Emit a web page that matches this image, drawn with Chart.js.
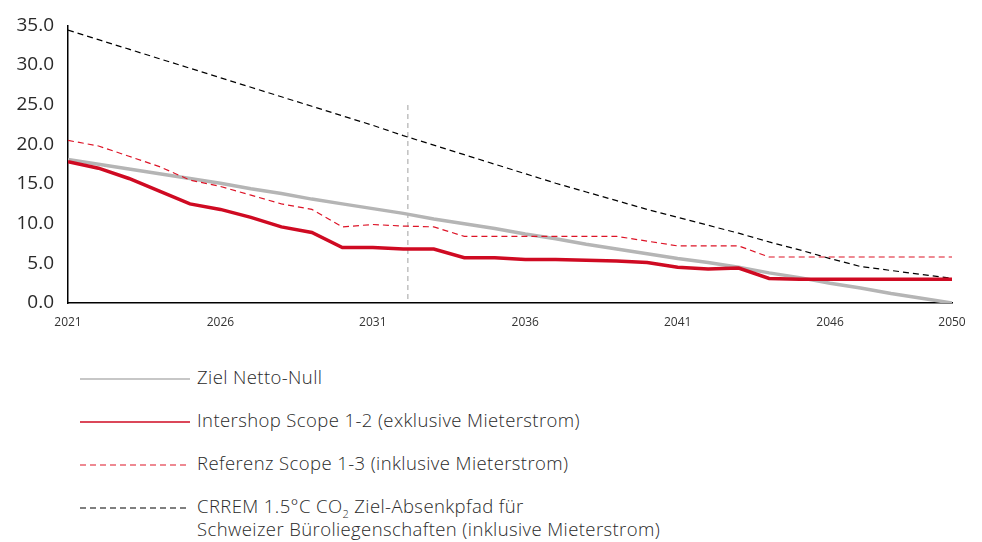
<!DOCTYPE html>
<html lang="de">
<head>
<meta charset="UTF-8">
<title>CO2 Absenkpfad</title>
<script src="https://cdn.jsdelivr.net/npm/chart.js"></script>
<style>
    body { margin: 0; background: #fff; font-family: "Open Sans", sans-serif; color: #333; }
    .wrap { position: relative; width: 982px; height: 542px; }
    .chart-box { position: absolute; left: 0; top: 0; width: 982px; height: 340px; }
    .legend { position: absolute; left: 80px; top: 365px; }
    .row { position: relative; height: 43px; }
    .row svg { position: absolute; left: 0; top: 12px; }
    .row span { position: absolute; left: 117px; top: 0; font-size: 18.5px; font-weight: 300; letter-spacing: 0.4px; line-height: 23px; white-space: nowrap; color: #2a2a2a; }
    .row sub { font-size: 11px; vertical-align: -5px; line-height: 0; }
</style>
</head>
<body>
<div class="wrap">
    <div class="chart-box"><canvas id="myChart"></canvas></div>
    <div class="legend" id="legend"></div>
</div>

<script>
    // Jahre 2021 - 2050
    var years = [];
    for (var y = 2021; y <= 2050; y++) years.push(y);

    var xTickYears = [2021, 2026, 2031, 2036, 2041, 2046, 2050];

    // Werte in kg CO2 / m2
    var zielNettoNull = [18.1, 17.5, 16.9, 16.3, 15.7, 15.1, 14.4, 13.8, 13.1, 12.5,
        11.9, 11.3, 10.6, 10.0, 9.4, 8.7, 8.1, 7.4, 6.8, 6.2,
        5.6, 5.1, 4.5, 3.8, 3.2, 2.5, 1.9, 1.2, 0.6, 0.0];

    var intershop = [17.8, 17.0, 15.7, 14.1, 12.5, 11.8, 10.8, 9.6, 8.9, 7.0,
        7.0, 6.8, 6.8, 5.7, 5.7, 5.5, 5.5, 5.4, 5.3, 5.1,
        4.5, 4.3, 4.4, 3.1, 3.0, 3.0, 3.0, 3.0, 3.0, 3.0];

    var referenz = [20.5, 19.8, 18.5, 17.2, 15.5, 14.7, 13.6, 12.5, 11.8, 9.6,
        9.9, 9.7, 9.6, 8.4, 8.4, 8.4, 8.4, 8.4, 8.4, 7.8,
        7.2, 7.2, 7.2, 5.8, 5.8, 5.8, 5.8, 5.8, 5.8, 5.8];

    var crrem = [34.4, 33.2, 32.0, 30.8, 29.6, 28.4, 27.2, 26.0, 24.8, 23.6,
        22.4, 21.1, 19.9, 18.7, 17.5, 16.3, 15.1, 14.0, 12.9, 11.8,
        10.8, 9.8, 8.8, 7.7, 6.7, 5.6, 4.6, 4.1, 3.6, 3.1];

    // senkrechte Markierung
    var markerYear = 2032.15;
    var markerRange = [0.5, 25];

    var legendLabels = [
        'Ziel Netto-Null',
        'Intershop Scope 1-2 (exklusive Mieterstrom)',
        'Referenz Scope 1-3 (inklusive Mieterstrom)',
        'CRREM 1.5°C CO<sub>2</sub> Ziel-Absenkpfad für<br>Schweizer Büroliegenschaften (inklusive Mieterstrom)'
    ];

    function toPoints(values) {
        return values.map(function (v, i) { return { x: years[i], y: v }; });
    }

    var series = [
        { label: 'Ziel Netto-Null', data: zielNettoNull, color: '#b5b5b5', width: 3.5, dash: [], legendWidth: 1.5, order: 4 },
        { label: 'Intershop Scope 1-2', data: intershop, color: '#cf0a22', width: 3.5, dash: [], legendWidth: 1.5, order: 1 },
        { label: 'Referenz Scope 1-3', data: referenz, color: '#dd1427', width: 1.2, dash: [6, 4], legendWidth: 1.2, order: 2 },
        { label: 'CRREM 1.5°C CO2', data: crrem, color: '#000000', width: 1.2, dash: [6, 4], legendWidth: 1.2, order: 3 }
    ];

    var datasets = series.map(function (s) {
        return {
            label: s.label,
            data: toPoints(s.data),
            borderColor: s.color,
            backgroundColor: s.color,
            borderWidth: s.width,
            borderDash: s.dash,
            pointRadius: 0,
            tension: 0,
            order: s.order
        };
    });

    datasets.push({
        label: 'Marker',
        data: [{ x: markerYear, y: markerRange[0] }, { x: markerYear, y: markerRange[1] }],
        borderColor: '#a0a0a0',
        borderWidth: 1,
        borderDash: [5, 4],
        pointRadius: 0,
        order: 5
    });

    const ctx = document.getElementById('myChart');

    new Chart(ctx, {
        type: 'line',
        data: { datasets: datasets },
        options: {
            responsive: true,
            maintainAspectRatio: false,
            animation: false,
            layout: { padding: { left: 0, right: 30, top: 19, bottom: 0 } },
            plugins: {
                legend: { display: false },
                tooltip: { enabled: false }
            },
            scales: {
                x: {
                    type: 'linear',
                    min: 2021,
                    max: 2050,
                    afterBuildTicks: function (scale) {
                        scale.ticks = xTickYears.map(function (v) { return { value: v }; });
                    },
                    afterFit: function (scale) { scale.height = 37; },
                    grid: { display: false, drawTicks: false },
                    border: { display: true, color: '#000', width: 1.5 },
                    ticks: {
                        padding: 12,
                        maxRotation: 0,
                        autoSkip: false,
                        color: '#333',
                        font: { family: 'Open Sans', size: 12 },
                        callback: function (v) { return String(v); }
                    }
                },
                y: {
                    min: 0,
                    max: 35,
                    afterFit: function (scale) { scale.width = 68; },
                    grid: { display: false, drawTicks: false },
                    border: { display: true, color: '#000', width: 1.5 },
                    ticks: {
                        stepSize: 5,
                        padding: 14,
                        color: '#2a2a2a',
                        font: { family: 'Open Sans', size: 19 },
                        callback: function (v) { return v.toFixed(1); }
                    }
                }
            }
        }
    });

    // Legende (eine Zeile pro Serie)
    var legend = document.getElementById('legend');
    series.forEach(function (s, i) {
        var row = document.createElement('div');
        row.className = 'row';
        var dash = s.dash.length ? ' stroke-dasharray="' + s.dash.join(',') + '"' : '';
        row.innerHTML = '<svg width="110" height="4"><line x1="0" y1="2" x2="110" y2="2" stroke="' + s.color +
            '" stroke-width="' + s.legendWidth + '"' + dash + '/></svg><span>' + legendLabels[i] + '</span>';
        legend.appendChild(row);
    });
</script>
</body>
</html>
